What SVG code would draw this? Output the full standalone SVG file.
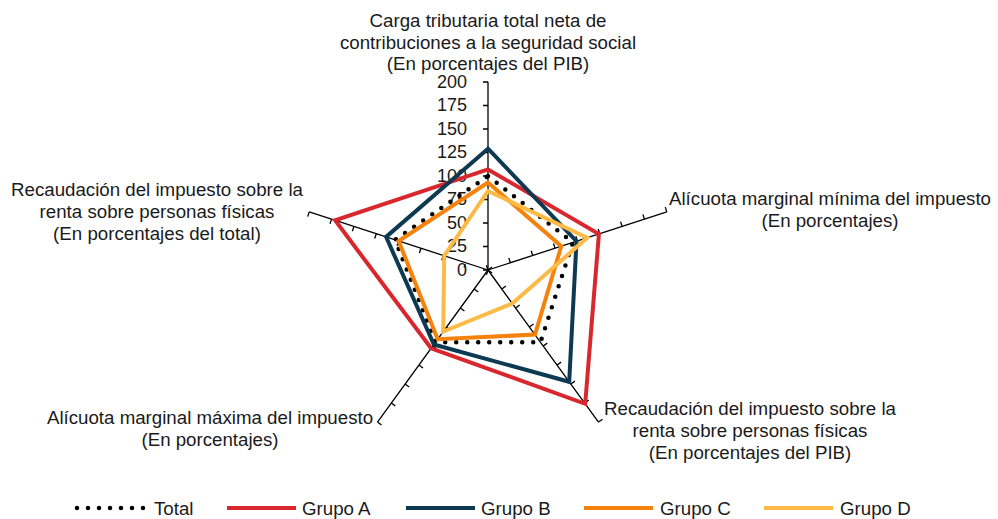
<svg xmlns="http://www.w3.org/2000/svg" width="998" height="519" viewBox="0 0 998 519">
<style>
text{font-family:"Liberation Sans",Arial,sans-serif;font-size:18.7px;fill:#1a1a1a}
.ax{fill:none;stroke:#000;stroke-width:1.3}
.s{fill:none;stroke-width:4;stroke-linejoin:miter}
.tot{stroke:#000;stroke-width:4.5;stroke-linecap:round;stroke-dasharray:0 11}
.ga{stroke:#D9272E}
.gb{stroke:#0D3A52}
.gc{stroke:#F5820C}
.gd{stroke:#FDBA45}
.m{text-anchor:middle}
.e{text-anchor:end}
.tk{font-size:18px}
</style>
<defs>
<path id="axis" class="ax" d="M488 270V82M483 270H488M483 246.5H488M483 223H488M483 199.5H488M483 176H488M483 152.5H488M483 129H488M483 105.5H488M483 82H488"/>
</defs>
<g id="axes">
<use href="#axis"/>
<use href="#axis" transform="rotate(72 488 270)"/>
<use href="#axis" transform="rotate(144 488 270)"/>
<use href="#axis" transform="rotate(216 488 270)"/>
<use href="#axis" transform="rotate(288 488 270)"/>
</g>
<g id="ticklabels" class="e">
<text class="tk" x="467" y="87.5">200</text>
<text class="tk" x="467" y="111">175</text>
<text class="tk" x="467" y="134.5">150</text>
<text class="tk" x="467" y="158">125</text>
<text class="tk" x="467" y="181.5">100</text>
<text class="tk" x="467" y="205">75</text>
<text class="tk" x="467" y="228.5">50</text>
<text class="tk" x="467" y="252">25</text>
<text class="tk" x="467" y="275.5">0</text>
</g>
<g id="series">
<polygon id="total" class="s tot" points="488,176 572.9,242.4 540.5,342.2 435.5,342.2 395,239.8"/>
<polygon id="grupoA" class="s ga" points="488,169.4 598.9,234 585.2,403.8 431.1,348.3 335.1,220.3"/>
<polygon id="grupoB" class="s gb" points="488,148.7 576.5,241.2 569.2,381.8 433.9,344.5 386.1,236.9"/>
<polygon id="grupoC" class="s gc" points="488,182.6 561.3,246.2 535,334.6 437.7,339.2 398.6,241"/>
<polygon id="grupoD" class="s gd" points="488,191 587.2,237.8 512.3,303.5 443.2,331.6 444.2,255.8"/>
</g>
<g id="label-top" class="m">
<text x="488" y="26.5">Carga tributaria total neta de</text>
<text x="488" y="48.5">contribuciones a la seguridad social</text>
<text x="488" y="70">(En porcentajes del PIB)</text>
</g>
<g id="label-right" class="m">
<text x="830" y="205">Alícuota marginal mínima del impuesto</text>
<text x="830" y="227">(En porcentajes)</text>
</g>
<g id="label-bottomright" class="m">
<text x="750" y="415">Recaudación del impuesto sobre la</text>
<text x="750" y="437">renta sobre personas físicas</text>
<text x="750" y="459">(En porcentajes del PIB)</text>
</g>
<g id="label-bottomleft" class="m">
<text x="210" y="424">Alícuota marginal máxima del impuesto</text>
<text x="210" y="446">(En porcentajes)</text>
</g>
<g id="label-left" class="m">
<text x="157" y="196">Recaudación del impuesto sobre la</text>
<text x="157" y="218">renta sobre personas físicas</text>
<text x="157" y="240">(En porcentajes del total)</text>
</g>
<g id="legend">
<line class="s tot" x1="77" y1="508" x2="145" y2="508"/>
<text x="154" y="514.5">Total</text>
<line class="s ga" x1="227" y1="508" x2="296" y2="508"/>
<text x="302" y="514.5">Grupo A</text>
<line class="s gb" x1="406" y1="508" x2="475" y2="508"/>
<text x="481" y="514.5">Grupo B</text>
<line class="s gc" x1="584" y1="508" x2="653" y2="508"/>
<text x="660" y="514.5">Grupo C</text>
<line class="s gd" x1="764" y1="508" x2="833" y2="508"/>
<text x="840" y="514.5">Grupo D</text>
</g>
</svg>
